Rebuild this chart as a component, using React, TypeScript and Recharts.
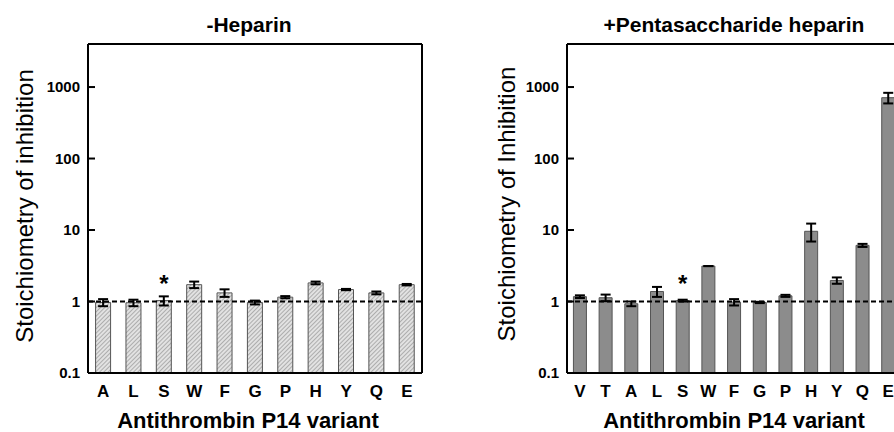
import { BarChart, Bar, XAxis, YAxis, ErrorBar, ReferenceLine, LabelList } from "recharts";

const yTicks = [0.1, 1, 10, 100, 1000];
const yMin = 0.1;
const yMax = 4000;

const noHeparinCats = ["A", "L", "S", "W", "F", "G", "P", "H", "Y", "Q", "E"];
const noHeparinVals = [0.97, 0.96, 1.03, 1.72, 1.32, 0.97, 1.15, 1.82, 1.47, 1.32, 1.72];
const noHeparinErr = [0.11, 0.1, 0.15, 0.18, 0.16, 0.06, 0.04, 0.08, 0.03, 0.06, 0.04];

const pentaCats = ["V", "T", "A", "L", "S", "W", "F", "G", "P", "H", "Y", "Q", "E"];
const pentaVals = [1.17, 1.13, 0.93, 1.38, 1.03, 3.13, 0.98, 0.97, 1.2, 9.6, 1.97, 6.1, 710];
const pentaErr = [0.05, 0.12, 0.07, 0.22, 0.03, 0, 0.1, 0.02, 0.04, 2.7, 0.2, 0.3, 120];

// variant marked with an asterisk in both panels
const starred = ["S"];

const FONT = '"Liberation Sans", Arial, sans-serif';

// log axis: plot decades above 0.1 on a linear scale, label ticks back in real units
const toAxis = (v: number) => Math.log10(v / yMin);
const fromAxis = (t: number) => +(yMin * Math.pow(10, t)).toPrecision(3);

type Row = { name: string; value: number; err: [number, number]; star: string };

function buildRows(cats: string[], vals: number[], errs: number[]): Row[] {
  return cats.map((name, i) => {
    const v = vals[i];
    const e = errs[i];
    return {
      name,
      value: toAxis(v),
      err: [toAxis(v) - toAxis(v - e), toAxis(v + e) - toAxis(v)],
      star: starred.includes(name) ? "*" : "",
    };
  });
}

const boldText = (size: number) => ({ fontSize: size, fontWeight: 700, fontFamily: FONT, fill: "#000" });

function LeftTick(props: any) {
  const x = Number(props.x);
  const y = Number(props.y);
  return (
    <g>
      <line x1={x + 8} x2={x + 15} y1={y} y2={y} stroke="#000" strokeWidth={2} />
      <text x={x} y={y} dy={5} textAnchor="end" style={boldText(15)}>
        {String(fromAxis(props.payload.value))}
      </text>
    </g>
  );
}

function RightTick(props: any) {
  const x = Number(props.x);
  const y = Number(props.y);
  return <line x1={x - 7} x2={x} y1={y} y2={y} stroke="#000" strokeWidth={2} />;
}

function BottomTick(props: any) {
  return (
    <text x={Number(props.x)} y={Number(props.y)} dy={24} textAnchor="middle" style={boldText(17)}>
      {props.payload.value}
    </text>
  );
}

function renderStar(props: any) {
  const { x, y, width, value } = props;
  if (!value) return null;
  return (
    <text x={x + width / 2} y={y - 9} textAnchor="middle" style={boldText(24)}>
      {value}
    </text>
  );
}

type PanelProps = {
  data: Row[];
  width: number;
  yAxisWidth: number;
  marginRight: number;
  fill: string;
};

function Panel({ data, width, yAxisWidth, marginRight, fill }: PanelProps) {
  const axisLine = { stroke: "#000", strokeWidth: 2 };
  const domain = [0, toAxis(yMax)];
  const ticks = yTicks.map(toAxis);
  return (
    <BarChart
      width={width}
      height={432}
      data={data}
      margin={{ top: 43, right: marginRight - 1, left: 0, bottom: 29 }}
      barCategoryGap="25%"
    >
      <XAxis
        dataKey="name"
        height={30}
        interval={0}
        tickLine={false}
        tickSize={0}
        tickMargin={0}
        axisLine={axisLine}
        tick={<BottomTick />}
      />
      <XAxis xAxisId="t" orientation="top" dataKey="name" height={1} tick={false} tickLine={false} axisLine={axisLine} />
      <YAxis
        type="number"
        domain={domain}
        ticks={ticks}
        interval={0}
        width={yAxisWidth}
        tickLine={false}
        tickSize={0}
        tickMargin={8}
        axisLine={axisLine}
        tick={<LeftTick />}
      />
      <YAxis
        yAxisId="r"
        type="number"
        orientation="right"
        domain={domain}
        ticks={ticks}
        interval={0}
        width={1}
        tickLine={false}
        tickSize={0}
        tickMargin={0}
        axisLine={axisLine}
        tick={<RightTick />}
      />
      <Bar dataKey="value" fill={fill} stroke="#555" strokeWidth={1} isAnimationActive={false}>
        <ErrorBar dataKey="err" width={5} stroke="#000" strokeWidth={2} isAnimationActive={false} />
        <LabelList dataKey="star" content={renderStar} />
      </Bar>
      <ReferenceLine y={toAxis(1)} stroke="#000" strokeWidth={2} strokeDasharray="5 3" />
    </BarChart>
  );
}

export default function App() {
  const left = buildRows(noHeparinCats, noHeparinVals, noHeparinErr);
  const right = buildRows(pentaCats, pentaVals, pentaErr);
  return (
    <div
      style={{
        position: "absolute",
        left: 0,
        top: 0,
        width: 894,
        height: 432,
        overflow: "hidden",
        background: "#fff",
        fontFamily: FONT,
      }}
    >
      <svg width={0} height={0} style={{ position: "absolute" }}>
        <defs>
          <pattern id="hatch" width={3} height={3} patternUnits="userSpaceOnUse" patternTransform="rotate(45)">
            <rect width={3} height={3} fill="#e2e2e2" />
            <line x1={0} y1={0} x2={0} y2={3} stroke="#8a8a8a" strokeWidth={1.2} />
          </pattern>
        </defs>
      </svg>
      <div style={{ position: "absolute", left: 0, top: 0 }}>
        <Panel data={left} width={447} yAxisWidth={88} marginRight={25} fill="url(#hatch)" />
      </div>
      <div style={{ position: "absolute", left: 447, top: 0 }}>
        <Panel data={right} width={475} yAxisWidth={120} marginRight={21} fill="#8c8c8c" />
      </div>
      <svg width={894} height={432} style={{ position: "absolute", left: 0, top: 0, pointerEvents: "none" }} fontFamily={FONT} fill="#000">
        <text x={249} y={32} textAnchor="middle" fontSize={21} fontWeight="bold">-Heparin</text>
        <text x={734} y={32} textAnchor="middle" fontSize={21} fontWeight="bold">+Pentasaccharide heparin</text>
        <text transform="translate(33,206) rotate(-90)" textAnchor="middle" fontSize={24}>Stoichiometry of inhibition</text>
        <text transform="translate(515,204) rotate(-90)" textAnchor="middle" fontSize={24}>Stoichiometry of Inhibition</text>
        <text x={248} y={428} textAnchor="middle" fontSize={22} fontWeight="bold">Antithrombin P14 variant</text>
        <text x={734} y={428} textAnchor="middle" fontSize={22} fontWeight="bold">Antithrombin P14 variant</text>
      </svg>
    </div>
  );
}
